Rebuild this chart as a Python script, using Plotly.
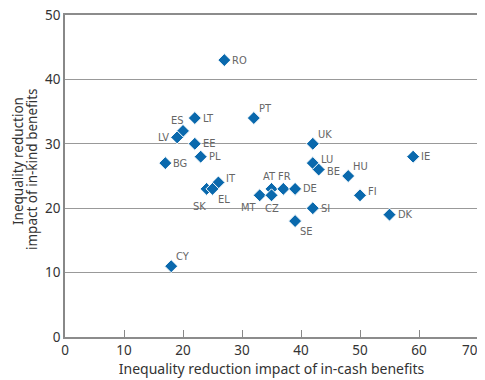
import plotly.graph_objects as go

countries = ["RO", "PT", "LT", "ES", "LV", "EE", "PL", "BG", "IT", "SK", "EL",
             "AT", "FR", "DE", "MT", "CZ", "UK", "LU", "BE", "HU", "IE", "FI",
             "SI", "SE", "DK", "CY"]
in_cash = [27, 32, 22, 20, 19, 22, 23, 17, 26, 24, 25,
           35, 37, 39, 33, 35, 42, 42, 43, 48, 59, 50,
           42, 39, 55, 18]
in_kind = [43, 34, 34, 32, 31, 30, 28, 27, 24, 23, 23,
           23, 23, 23, 22, 22, 30, 27, 26, 25, 28, 22,
           20, 18, 19, 11]
label_pos = ["R", "TR", "R", "TL", "L", "R", "R", "R", "RU", "BL2", "BR",
             "TA", "TF", "R", "BL", "B", "TR", "RU", "RD", "TR", "R", "RU",
             "R", "BR", "R", "TR"]

x_ticks = [0, 10, 20, 30, 40, 50, 60, 70]
y_ticks = [0, 10, 20, 30, 40, 50]

x_title = "Inequality reduction impact of in-cash benefits"
y_title_lines = ["Inequality reduction", "impact of in-kind benefits"]

# label placement styles: (xanchor, yanchor, xshift px, yshift px)
POS = {
    "R": ("left", "middle", 7, 0),
    "RU": ("left", "middle", 7, 4),
    "RD": ("left", "middle", 7, -2),
    "L": ("right", "middle", -7, 0),
    "TR": ("left", "bottom", 4, 2),
    "TL": ("right", "bottom", 2, 3),
    "TA": ("center", "bottom", -2, 5),
    "TF": ("center", "bottom", 1, 5),
    "B": ("center", "top", 0, -6),
    "BR": ("left", "top", 4, -3),
    "BL": ("right", "top", -2, -5),
    "BL2": ("right", "top", 0, -10),
}

fig = go.Figure(go.Scatter(
    x=in_cash, y=in_kind, mode="markers",
    marker=dict(symbol="diamond", size=10, color="#0a69ad", line=dict(color="white", width=1)),
    cliponaxis=False,
))

for c, xv, yv, p in zip(countries, in_cash, in_kind, label_pos):
    xa, ya, xs, ys = POS[p]
    fig.add_annotation(
        x=xv, y=yv, text=c, showarrow=False, xanchor=xa, yanchor=ya,
        xshift=xs, yshift=ys, borderpad=0,
        font=dict(family="Liberation Sans Narrow, DejaVu Sans Condensed, sans-serif", size=11, color="#666666"),
    )

# y-axis title as two rotated lines
for line, xs, ys in zip(y_title_lines, [-47, -33], [15, 7]):
    fig.add_annotation(
        xref="paper", yref="paper", x=0, y=0.5, text=line, showarrow=False,
        textangle=-90, xanchor="center", yanchor="middle",
        xshift=xs, yshift=ys,
        font=dict(size=13.5, color="#333333"),
    )

# last x tick label sits at the window edge; draw it right-aligned to its tick
shown_x_ticks = x_ticks[:-1]
fig.add_annotation(
    x=x_ticks[-1], xref="x", y=0, yref="paper", text=str(x_ticks[-1]), showarrow=False,
    xanchor="right", yanchor="top", xshift=1, yshift=-3, borderpad=0,
    font=dict(size=13.5, color="#333333"),
)

fig.update_layout(
    width=477, height=372,
    margin=dict(l=57, r=7, t=7, b=43),
    paper_bgcolor="white", plot_bgcolor="white",
    showlegend=False,
    font=dict(family="Noto Sans, Open Sans, sans-serif", color="#333333"),
)
fig.update_xaxes(
    range=[0, 70], tickvals=x_ticks, ticktext=[str(v) for v in shown_x_ticks] + [""],
    showgrid=False, zeroline=False, automargin=False,
    showline=True, mirror=True, linecolor="#8c8c8c", linewidth=1.5,
    ticks="inside", ticklen=7, tickcolor="#888888", tickwidth=1,
    tickfont=dict(size=13.5, color="#333333"), ticklabeloverflow="allow",
    title=dict(text=x_title, font=dict(size=14, color="#333333"), standoff=2),
)
fig.update_yaxes(
    range=[0, 50], tickvals=y_ticks, showgrid=True, gridcolor="#999999", gridwidth=1,
    zeroline=False, showline=True, linecolor="#888888", linewidth=1.5, automargin=False,
    ticks="", tickfont=dict(size=13.5, color="#333333"), ticklabeloverflow="allow",
)

fig.write_html("out.html")
